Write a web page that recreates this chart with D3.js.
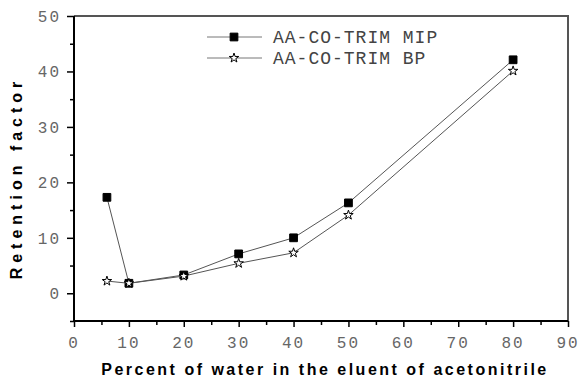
<!DOCTYPE html>
<html><head><meta charset="utf-8">
<script src="https://cdn.jsdelivr.net/npm/d3@7"></script>
<style>body{margin:0;background:#fff}</style>
</head><body>
<svg id="c" width="579" height="378"></svg>
<script>
const xValues = [6, 10, 20, 30, 40, 50, 80];
const mipValues = [17.3, 1.8, 3.3, 7.1, 10.0, 16.3, 42.1];
const bpValues = [2.2, 1.8, 3.1, 5.4, 7.3, 14.1, 40.1];
const seriesNames = ["AA-CO-TRIM MIP", "AA-CO-TRIM BP"];
const xTicks = [0, 10, 20, 30, 40, 50, 60, 70, 80, 90];
const yTicks = [0, 10, 20, 30, 40, 50];
const xTitle = "Percent of water in the eluent of acetonitrile";
const yTitle = "Retention factor";

const svg = d3.select("#c");
const x = d3.scaleLinear().domain([-0, 90]).range([74, 568]);
const y = d3.scaleLinear().domain([-5, 50]).range([321, 16]);

// frame top/right
svg.append("line").attr("x1", x(0)).attr("x2", x(90)+1).attr("y1", y(50)).attr("y2", y(50)).attr("stroke", "#555").attr("stroke-width", 2);
svg.append("line").attr("x1", x(90)).attr("x2", x(90)).attr("y1", y(50)).attr("y2", y(-5)).attr("stroke", "#555").attr("stroke-width", 2);

// axes
const xAxis = d3.axisBottom(x).tickValues(d3.range(0, 91, 5)).tickSize(6).tickFormat("");
const gx = svg.append("g").attr("transform", `translate(0,${y(-5)})`).call(xAxis);
gx.select(".domain").attr("stroke", "#000").attr("stroke-width", 2).attr("d", `M${x(0)},0H${x(90)}`);
gx.selectAll(".tick line").attr("stroke", "#000").attr("stroke-width", 1.5).attr("y2", d => d % 10 === 0 ? 6 : 4);

const yAxis = d3.axisLeft(y).tickValues(d3.range(-5, 51, 5)).tickSize(7).tickFormat("");
const gy = svg.append("g").attr("transform", `translate(${x(0)},0)`).call(yAxis);
gy.select(".domain").attr("stroke", "#000").attr("stroke-width", 2).attr("d", `M0,${y(-5)+1}V${y(50)}`);
gy.selectAll(".tick line").attr("stroke", "#000").attr("stroke-width", 1.5).attr("x2", d => d % 10 === 0 ? -7 : -4);

// tick labels
svg.append("g").selectAll("text").data(xTicks).join("text")
  .attr("x", d => x(d)).attr("y", 348).attr("text-anchor", "middle")
  .attr("font-family", "Liberation Mono").attr("font-size", 16).attr("letter-spacing", 2)
  .attr("fill", "#666").text(d => d);
svg.append("g").selectAll("text").data(yTicks).join("text")
  .attr("x", 61).attr("y", d => y(d) + 6).attr("text-anchor", "end")
  .attr("font-family", "Liberation Mono").attr("font-size", 16).attr("letter-spacing", 2)
  .attr("fill", "#666").text(d => d);

// titles
svg.append("text").attr("x", 325).attr("y", 375).attr("text-anchor", "middle")
  .attr("font-family", "Liberation Sans").attr("font-weight", "bold").attr("font-size", 16)
  .attr("letter-spacing", 2.5).text(xTitle);
svg.append("text").attr("transform", "translate(22,178) rotate(-90)").attr("text-anchor", "middle")
  .attr("font-family", "Liberation Sans").attr("font-weight", "bold").attr("font-size", 16)
  .attr("letter-spacing", 5).text(yTitle);

// series
const series = [
  {name: seriesNames[0], vals: mipValues, sym: d3.symbolSquare, size: 60, fill: "#000"},
  {name: seriesNames[1], vals: bpValues, sym: d3.symbolStar, size: 28, fill: "#fff"}
];
const line = d3.line().x(d => x(d[0])).y(d => y(d[1]));
series.forEach((s, i) => {
  const pts = xValues.map((v, j) => [v, s.vals[j]]);
  svg.append("path").attr("d", line(pts)).attr("fill", "none").attr("stroke", "#555").attr("stroke-width", 1);
  svg.append("g").selectAll("path").data(pts).join("path")
    .attr("d", d3.symbol().type(s.sym).size(s.size))
    .attr("transform", d => `translate(${x(d[0])},${y(d[1])})`)
    .attr("fill", s.fill).attr("stroke", "#000").attr("stroke-width", 1);
  const ly = 37 + i * 21;
  svg.append("line").attr("x1", 207).attr("x2", 262).attr("y1", ly).attr("y2", ly).attr("stroke", "#777").attr("stroke-width", 1);
  svg.append("path").attr("d", d3.symbol().type(s.sym).size(s.size)()).attr("transform", `translate(234,${ly})`)
    .attr("fill", s.fill).attr("stroke", "#000").attr("stroke-width", 1);
  svg.append("text").attr("x", 273).attr("y", ly + 6).attr("font-family", "Liberation Mono")
    .attr("font-size", 18).attr("letter-spacing", 1).attr("fill", "#444").text(s.name);
});
</script>
</body></html>
